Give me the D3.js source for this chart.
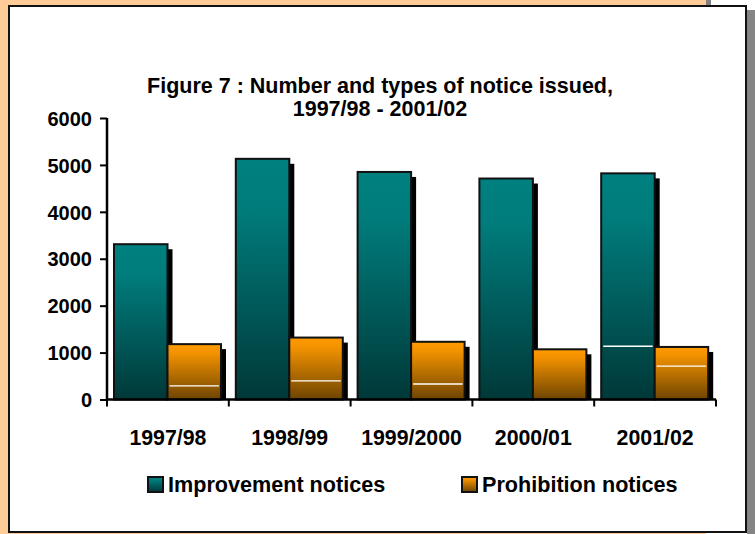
<!DOCTYPE html>
<html>
<head>
<meta charset="utf-8">
<script src="https://cdn.jsdelivr.net/npm/d3@7"></script>
<style>
  html, body { margin: 0; padding: 0; background: #ffffff; }
  svg { display: block; }
  text { font-family: "Liberation Sans", Arial, Helvetica, sans-serif; font-weight: bold; fill: #000; }
</style>
</head>
<body>
<script>
// ---- data ----
const categories = ["1997/98", "1998/99", "1999/2000", "2000/01", "2001/02"];
const seriesNames = ["Improvement notices", "Prohibition notices"];
const improvementValues = [3310, 5130, 4850, 4710, 4820];
const prohibitionValues = [1180, 1320, 1230, 1070, 1120];
const yTicks = [0, 1000, 2000, 3000, 4000, 5000, 6000];
const titleLines = ["Figure 7 : Number and types of notice issued,", "1997/98 - 2001/02"];
// thin white scan lines visible inside some bars of the original: [category, series index, value]
const whiteLines = [["1997/98", 1, 290], ["1998/99", 1, 395], ["1999/2000", 1, 330], ["2001/02", 0, 1135], ["2001/02", 1, 710]];

const W = 755, H = 534;
const svg = d3.select("body").append("svg").attr("width", W).attr("height", H);
const defs = svg.append("defs");

// gradients
const gTeal = defs.append("linearGradient").attr("id", "gTeal").attr("x1", 0).attr("y1", 0).attr("x2", 0).attr("y2", 1);
gTeal.append("stop").attr("offset", "0%").attr("stop-color", "#008080");
gTeal.append("stop").attr("offset", "20%").attr("stop-color", "#007c7c");
gTeal.append("stop").attr("offset", "100%").attr("stop-color", "#003838");
const gOrange = defs.append("linearGradient").attr("id", "gOrange").attr("x1", 0).attr("y1", 0).attr("x2", 0).attr("y2", 1);
gOrange.append("stop").attr("offset", "0%").attr("stop-color", "#ff9a00");
gOrange.append("stop").attr("offset", "15%").attr("stop-color", "#f49300");
gOrange.append("stop").attr("offset", "100%").attr("stop-color", "#6e4400");
const fills = ["url(#gTeal)", "url(#gOrange)"];

// frame / background
svg.append("rect").attr("x", 0).attr("y", 0).attr("width", 706).attr("height", H).attr("fill", "#ffcc99");
svg.append("rect").attr("x", 706).attr("y", 0).attr("width", 5).attr("height", 7).attr("fill", "#808080");
svg.append("rect").attr("x", 747).attr("y", 10).attr("width", 8).attr("height", H - 10).attr("fill", "#858585");
svg.append("rect").attr("x", 9).attr("y", 6).attr("width", 737).attr("height", 526)
  .attr("fill", "#ffffff").attr("stroke", "#111").attr("stroke-width", 2);

// title
svg.append("g").selectAll("text").data(titleLines).join("text")
  .attr("x", 380).attr("y", (d, i) => 93 + i * 23)
  .attr("text-anchor", "middle").attr("font-size", 21.5).text(d => d);

// scales
const x0 = d3.scaleBand().domain(categories).range([107, 716]).padding(0);
const x1 = d3.scaleBand().domain([0, 1]).range([7, 114]).padding(0);
const y = d3.scaleLinear().domain([0, 6000]).range([399.5, 118]);

const data = categories.map((c, i) => ({ cat: c, vals: [improvementValues[i], prohibitionValues[i]] }));

// bars
const groups = svg.append("g").selectAll("g").data(data).join("g")
  .attr("transform", d => `translate(${x0(d.cat)},0)`);

const shadowOff = 5;
groups.each(function (d) {
  const g = d3.select(this);
  d.vals.forEach((v, s) => {
    g.append("rect")
      .attr("x", x1(s) + shadowOff).attr("y", y(v) + shadowOff)
      .attr("width", x1.bandwidth()).attr("height", y(0) - y(v) - shadowOff)
      .attr("fill", "#000");
    g.append("rect")
      .attr("x", x1(s)).attr("y", y(v))
      .attr("width", x1.bandwidth()).attr("height", y(0) - y(v))
      .attr("fill", fills[s]).attr("stroke", "#111").attr("stroke-width", 2);
  });
});

// white scan lines
svg.append("g").selectAll("line").data(whiteLines).join("line")
  .attr("x1", d => x0(d[0]) + x1(d[1]) + 2)
  .attr("x2", d => x0(d[0]) + x1(d[1]) + x1.bandwidth() - 2)
  .attr("y1", d => y(d[2])).attr("y2", d => y(d[2]))
  .attr("stroke", "#ffffff").attr("stroke-width", 1.3);

// y axis
const yAxis = svg.append("g").attr("transform", "translate(107,0)")
  .call(d3.axisLeft(y).tickValues(yTicks).tickFormat(d3.format("d")).tickSize(7).tickPadding(8));
yAxis.select(".domain").attr("stroke", "#000").attr("stroke-width", 2.5).attr("d", `M0,${y(6000)}V${y(0)}`);
yAxis.selectAll(".tick line").attr("stroke", "#000").attr("stroke-width", 2);
yAxis.selectAll(".tick text").attr("font-size", 20).attr("font-family", null).attr("dy", "0.36em");

// x axis
const boundaries = categories.map(c => x0(c)).concat([x0(categories[categories.length - 1]) + x0.bandwidth()]);
const xAxisG = svg.append("g");
xAxisG.append("line").attr("x1", 107).attr("x2", 716).attr("y1", y(0)).attr("y2", y(0))
  .attr("stroke", "#000").attr("stroke-width", 2.5);
xAxisG.selectAll("line.t").data(boundaries).join("line").attr("class", "t")
  .attr("x1", d => d).attr("x2", d => d).attr("y1", y(0)).attr("y2", y(0) + 7)
  .attr("stroke", "#000").attr("stroke-width", 2);
xAxisG.selectAll("text").data(categories).join("text")
  .attr("x", d => x0(d) + x0.bandwidth() / 2).attr("y", 445)
  .attr("text-anchor", "middle").attr("font-size", 21.3).text(d => d);

// legend
const legendX = [148, 462];
const leg = svg.append("g").selectAll("g").data(seriesNames).join("g")
  .attr("transform", (d, i) => `translate(${legendX[i]},477)`);
leg.append("rect").attr("width", 15).attr("height", 15)
  .attr("fill", (d, i) => fills[i]).attr("stroke", "#111").attr("stroke-width", 2);
leg.append("text").attr("x", 20).attr("y", 15).attr("font-size", 21.6).text(d => d);
</script>
</body>
</html>
